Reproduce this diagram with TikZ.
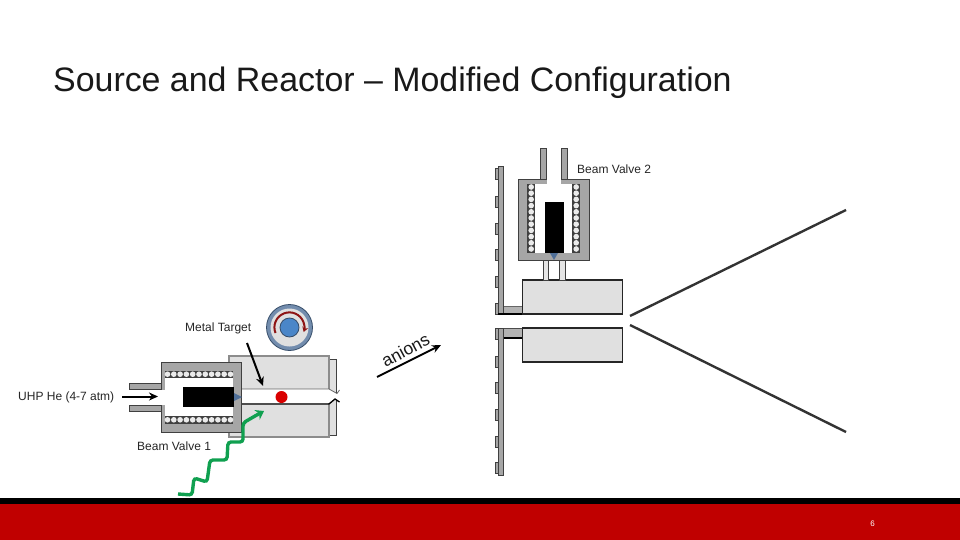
\documentclass[tikz,border=0pt]{standalone}
\usepackage{fontspec}
\setmainfont{Liberation Sans}
\usetikzlibrary{arrows.meta}
\definecolor{wallgray}{HTML}{A6A6A6}
\definecolor{blockgray}{HTML}{E0E0E0}
\definecolor{brick}{HTML}{C00000}
\definecolor{dgreen}{HTML}{10A050}
\definecolor{vblue}{HTML}{4F6F98}
\definecolor{discblue}{HTML}{4A86C8}
\definecolor{darkred}{HTML}{8E1414}
\tikzset{
  x=1pt,y=-1pt,
  wall/.style={fill=wallgray,draw=black!75,line width=1pt},
  block/.style={fill=blockgray,draw=black!85,line width=1.1pt},
  lab/.style={font=\fontsize{12}{14}\selectfont,text=black!85,inner sep=0pt},
  blackarrow/.style={-{Stealth[length=9pt,width=8pt]},line width=2pt,black},
  cone/.style={line width=2.4pt,black!80},
  bead/.style={fill=black!8,draw=none}
}
\begin{document}
\begin{tikzpicture}
\useasboundingbox (0,0) rectangle (960,540);
\fill[white] (0,0) rectangle (960,540);
\node[anchor=west,inner sep=0pt,font=\fontsize{33.9}{38}\selectfont,text=black!90] (title) at (53,83) {Source and Reactor – Modified Configuration};
% footer
\fill[black] (0,498) rectangle (960,504);
\fill[brick] (0,504) rectangle (960,540);
\node[text=white,font=\fontsize{8}{9}\selectfont,inner sep=0pt] (page) at (872.5,523.5) {6};
% ---- Left assembly: reactor
\draw[wall,fill=blockgray] (329,359) rectangle (336,435);
\draw[block,draw=black!45] (229,356) rectangle (329,437);
\fill[white] (241,389) rectangle (329,403);
\fill[white] (329,389) -- (337,393.5) -- (339.5,390) -- (339.5,402) -- (335,399) -- (329,403) -- cycle;
\draw[black,line width=1.3pt] (241,404) -- (329,404) -- (335,399) -- (339.5,402);
\draw[black!60,line width=0.8pt] (241,389) -- (329,389) -- (337,393.5) -- (339.5,390);
\fill[red!85!black] (281.5,397) circle (6);
% source 1
\draw[wall] (129,383) rectangle (162,389);
\draw[wall] (129,405) rectangle (162,411);
\draw[wall] (161,362) rectangle (241,432);
\fill[white] (164.5,370.5) rectangle (233,424);
\fill[white] (160,389.5) rectangle (166,404.5);
\fill[black!75] (164.5,370.5) rectangle (233,378);
\fill[black!75] (164.5,416) rectangle (233,423.5);
\foreach \i in {0,...,10}{
  \fill[bead] ({167.5+6.3*\i},374.2) circle (2.8);
  \fill[bead] ({167.5+6.3*\i},419.8) circle (2.8);
}
\fill[black] (183,387) rectangle (234,407);
\fill[vblue] (234,393) -- (242,397) -- (234,401) -- cycle;
% disc
\node[circle,minimum size=46pt,inner sep=0pt,fill=vblue!80,draw=vblue!70!black,line width=0.8pt] (disc) at (289.5,327.5) {};
\fill[black!12] (289.5,327.5) circle (19);
\fill[discblue,draw=vblue!70!black,line width=0.8pt] (289.5,327.5) circle (9.5);
\draw[darkred,line width=2pt,-{Stealth[length=5pt,width=6pt]}] (275.5,333) arc[start angle=202,end angle=-18,x radius=15,y radius=-15];
% ---- Right assembly: walls
\draw[wall] \foreach \y in {169,196,223,249,276,303}{(495,\y) rectangle (498.5,\y+11)};
\draw[wall] (498,167) rectangle (503.5,314);
\draw[wall] \foreach \y in {328,356,382,409,436,462}{(495,\y) rectangle (498.5,\y+11)};
\draw[wall] (498,328) rectangle (503.5,475);
\fill[wallgray!85!white] (503.5,306) rectangle (522,314);
\draw[black!60,line width=0.8pt] (503.5,306) -- (522,306);
\draw[black,line width=1.1pt] (498,314) -- (522,314);
\fill[wallgray!85!white] (503.5,328) rectangle (522,338);
\draw[black,line width=1.3pt] (503.5,338) -- (522,338);
\draw[black!70,line width=0.8pt] (503.5,328) -- (522,328);
\draw[block] (522.3,280) rectangle (622.3,314);
\draw[block] (522.3,328) rectangle (622.3,362);
% source 2
\draw[wall,fill=black!10] (543,260) rectangle (548.5,280);
\draw[wall,fill=black!10] (559,260) rectangle (565,280);
\draw[wall] (540,149) rectangle (546,184);
\draw[wall] (561,149) rectangle (567,184);
\draw[wall] (518.5,180) rectangle (589,260.5);
\fill[white] (527.3,183.5) rectangle (580,253);
\fill[white] (546.5,179) rectangle (560.5,184);
\fill[black!75] (527.3,183.5) rectangle (535,253);
\fill[black!75] (572.3,183.5) rectangle (580,253);
\foreach \i in {0,...,10}{
  \fill[bead] (531.2,{187+6.2*\i}) circle (2.8);
  \fill[bead] (576.2,{187+6.2*\i}) circle (2.8);
}
\fill[black] (545,202) rectangle (564,253);
\fill[vblue] (550,253) -- (558,253) -- (554,260) -- cycle;
% cone
\coordinate (cu1) at (630,316); \coordinate (cu2) at (846,210);
\coordinate (cl1) at (630,325); \coordinate (cl2) at (846,432);
\draw[cone] (cu1) -- (cu2);
\draw[cone] (cl1) -- (cl2);
% labels
\node[lab,anchor=west] (bv2) at (577,169) {Beam Valve 2};
\node[lab,anchor=west] (mt) at (185,328.5) {Metal Target};
\node[lab,anchor=west] (uhp) at (18,397.5) {UHP He (4-7 atm)};
\node[lab,anchor=west] (bv1) at (137,446) {Beam Valve 1};
% arrows
\coordinate (mt1) at (247,343); \coordinate (mt2) at (263,386);
\draw[blackarrow] (mt1) -- (mt2);
\coordinate (he1) at (122,396.5); \coordinate (he2) at (158,396.5);
\draw[blackarrow] (he1) -- (he2);
\coordinate (an1) at (377,377); \coordinate (an2) at (441,345);
\draw[blackarrow] (an1) -- (an2);
\node[inner sep=0pt,font=\fontsize{17.5}{20}\selectfont,rotate=28,text=black!90] (anions) at (405.5,350) {anions};
% green squiggle
\coordinate (g0) at (178,494); \coordinate (g9) at (264,411);
\draw[dgreen,line width=3.4pt,-{Stealth[length=8pt,width=11pt]},rounded corners=3pt]
  (g0) -- (192,495) -- (194,478) -- (207,482) -- (210,460) -- (227,460) -- (228,442) -- (243,442) -- (243,423) -- (255,416) -- (g9);
\end{tikzpicture}
\end{document}
